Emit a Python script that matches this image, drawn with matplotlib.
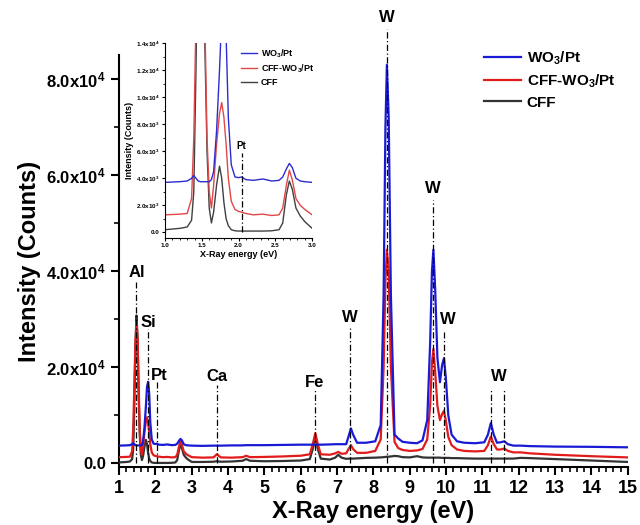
import numpy as np
import matplotlib
matplotlib.use('Agg')
import matplotlib.pyplot as plt
from matplotlib.ticker import MultipleLocator, FuncFormatter

plt.rcParams['font.family'] = ['Liberation Sans', 'DejaVu Sans']
plt.rcParams['font.weight'] = 'bold'
plt.rcParams['mathtext.fontset'] = 'custom'
plt.rcParams['mathtext.rm'] = 'Liberation Sans'
plt.rcParams['mathtext.bf'] = 'Liberation Sans:bold'

# EDS spectra (energy in eV, intensity in counts)
energy = [1.00, 1.20, 1.30, 1.36, 1.39, 1.42, 1.45, 1.48, 1.51, 1.54, 1.57, 1.60,
          1.63, 1.66, 1.70, 1.74, 1.77, 1.80, 1.83, 1.86, 1.90, 1.95, 2.00, 2.04,
          2.10, 2.20, 2.33, 2.45, 2.55, 2.60, 2.65, 2.69, 2.73, 2.78, 2.84, 2.90,
          3.00, 3.30, 3.60, 3.69, 3.80, 4.10, 4.40, 4.50, 4.60, 5.00, 5.50, 6.00,
          6.25, 6.33, 6.40, 6.47, 6.55, 6.80, 6.95, 7.03, 7.12, 7.25, 7.33, 7.38,
          7.44, 7.55, 7.80, 8.05, 8.20, 8.28, 8.33, 8.37, 8.42, 8.48, 8.58, 8.68,
          8.80, 9.00, 9.20, 9.35, 9.48, 9.56, 9.61, 9.65, 9.70, 9.76, 9.83, 9.89,
          9.94, 9.99, 10.06, 10.15, 10.30, 10.50, 10.80, 11.05, 11.15, 11.23, 11.31, 11.40,
          11.50, 11.60, 11.70, 11.85, 12.05, 12.30, 13.00, 14.00, 15.00]

wo3_pt = [3700, 3750, 3800, 4000, 4200, 4000, 3800, 3750, 3750, 3750, 3750, 3750,
          3900, 4500, 7500, 12000, 16000, 17000, 14500, 8500, 5000, 4100, 4050, 4100,
          3900, 3850, 3950, 3800, 3850, 4100, 4700, 5100, 4800, 4000, 3800, 3750,
          3700, 3650, 3700, 3700, 3700, 3750, 3750, 3800, 3800, 3800, 3850, 3900,
          3900, 3900, 3900, 3900, 3900, 3950, 4000, 4000, 4000, 4000, 6000, 7300,
          6000, 4300, 4300, 4600, 8000, 35000, 70000, 83000, 72000, 35000, 6000, 5200,
          4500, 4300, 4200, 4800, 9000, 25000, 40000, 44500, 36000, 22000, 16900, 20500,
          21900, 18000, 10000, 6000, 4600, 4300, 4200, 4400, 6000, 8400, 6000, 4300,
          4400, 4600, 4000, 3700, 3700, 3600, 3500, 3450, 3350]

cff_wo3_pt = [1300, 1350, 1400, 2500, 7000, 16000, 25000, 29500, 26000, 16000, 7000, 3000,
              1800, 3500, 6500, 8800, 9600, 8500, 6500, 4000, 2300, 1700, 1550, 1500,
              1400, 1300, 1350, 1250, 1300, 1800, 3500, 4600, 3900, 2500, 2000, 1700,
              1300, 1200, 1250, 1900, 1250, 1200, 1300, 1600, 1300, 1350, 1450, 1600,
              1900, 4000, 6300, 4000, 1900, 1800, 2100, 2400, 2000, 2100, 3200, 3800,
              3000, 2200, 2200, 2600, 5000, 20000, 38000, 44500, 40000, 20000, 4500, 3200,
              2800, 2600, 2700, 3000, 5000, 12000, 21000, 23800, 19000, 12000, 9000, 10300,
              10900, 9000, 5500, 3800, 2900, 2600, 2500, 2600, 3800, 5600, 4000, 2900,
              2900, 3100, 2600, 2300, 2300, 2100, 1800, 1500, 1250]

cff = [200, 300, 400, 900, 3000, 12000, 24000, 30800, 26000, 14000, 6000, 1800,
       700, 1500, 3500, 4900, 4000, 2200, 1000, 500, 200, 120, 100, 100,
       100, 100, 100, 120, 200, 700, 2800, 3800, 3200, 1800, 1200, 800,
       300, 300, 350, 450, 350, 400, 550, 900, 550, 450, 500, 600,
       900, 3000, 5500, 3000, 1000, 800, 1200, 1800, 1200, 950, 1000, 1000,
       1000, 1050, 1150, 1200, 1250, 1300, 1350, 1400, 1400, 1450, 1550, 1500,
       1300, 1250, 1500, 1250, 1200, 1200, 1200, 1200, 1200, 1200, 1200, 1150,
       1150, 1150, 1150, 1100, 1100, 1050, 1000, 1000, 1000, 1000, 1000, 1000,
       1000, 1000, 1000, 1000, 1150, 1100, 900, 600, 300]

# element markers: name, line energy, label position, top of dash-dot line
peak_names = ['Al', 'Si', 'Pt', 'Ca', 'Fe', 'W', 'W', 'W', 'W', 'W', '']
peak_x = [1.48, 1.79, 2.04, 3.70, 6.39, 7.36, 8.37, 9.64, 9.94, 11.23, 11.60]
label_x = [1.48, 1.82, 2.12, 3.70, 6.39, 7.36, 8.37, 9.64, 10.04, 11.45, 11.45]
label_y = [39700, 29400, 18400, 18000, 16900, 30300, 92900, 57200, 29900, 18000, 18000]
line_top = [37800, 28000, 17000, 16300, 15200, 28200, 90400, 54900, 27400, 15700, 15700]

blue = '#1a1ad6'
red = '#e21b1b'
dark = '#333333'
dashdot = (0, (5, 2, 1, 2))


def sci_fmt(v, pos):
    if abs(v) < 1e-9:
        return '0.0'
    if v < 0:
        return ''
    e = int(np.floor(np.log10(v)))
    m = v / 10 ** e
    return r'$\mathbf{%.1fx10^{%d}}$' % (m, e)


fig = plt.figure(figsize=(6.4, 5.25), dpi=100)

# main spectrum
ax = fig.add_axes([0.186, 0.110, 0.795, 0.785])
ax.plot(energy, cff, color=dark, lw=1.6, label='CFF', zorder=3)
ax.plot(energy, cff_wo3_pt, color=red, lw=1.6, label=r'CFF-WO$_\mathbf{3}$/Pt', zorder=4)
ax.plot(energy, wo3_pt, color=blue, lw=1.6, label=r'WO$_\mathbf{3}$/Pt', zorder=5)

for name, px, lx, ly, top in zip(peak_names, peak_x, label_x, label_y, line_top):
    ax.plot([px, px], [0, top], color='black', lw=0.9, ls=dashdot, zorder=6, clip_on=False)
    if name:
        ax.text(lx, ly, name, ha='center', va='center', fontsize=12,
                fontweight='bold', clip_on=False)

ax.set_xlim(1, 15)
ax.set_ylim(-800, 85000)
ax.xaxis.set_major_locator(MultipleLocator(1))
ax.xaxis.set_minor_locator(MultipleLocator(0.2))
ax.yaxis.set_major_locator(MultipleLocator(20000))
ax.yaxis.set_minor_locator(MultipleLocator(10000))
ax.yaxis.set_major_formatter(FuncFormatter(sci_fmt))
ax.spines['top'].set_visible(False)
ax.spines['right'].set_visible(False)
for s in ['left', 'bottom']:
    ax.spines[s].set_linewidth(1.5)
ax.tick_params(which='major', direction='out', length=6, width=1.5, labelsize=12)
ax.tick_params(which='minor', direction='out', length=3.5, width=1.2)
ax.tick_params(axis='x', labelsize=13, pad=3)
for lab in ax.get_xticklabels():
    lab.set_fontweight('bold')
ax.set_xlabel('X-Ray energy (eV)', fontsize=17, fontweight='bold', labelpad=2)
ax.set_ylabel('Intensity (Counts)', fontsize=17, fontweight='bold', labelpad=4)

handles, labels = ax.get_legend_handles_labels()
ax.legend(handles[::-1], labels[::-1], loc='upper left', bbox_to_anchor=(0.69, 1.047),
          frameon=False, handlelength=2.4, handletextpad=0.4,
          labelspacing=0.35, prop={'weight': 'bold', 'size': 11})

# inset: low energy region
ax2 = fig.add_axes([0.258, 0.547, 0.2297, 0.371])
ax2.set_facecolor('white')
ax2.plot(energy, cff, color='#404040', lw=1.0, label='CFF')
ax2.plot(energy, cff_wo3_pt, color='#e04848', lw=1.0, label=r'CFF-WO$_\mathbf{3}$/Pt')
ax2.plot(energy, wo3_pt, color='#2c2cd0', lw=1.0, label=r'WO$_\mathbf{3}$/Pt')
ax2.plot([2.04, 2.04], [0, 5900], color='black', lw=0.9, ls=dashdot)
ax2.text(2.04, 6400, 'Pt', ha='center', va='center', fontsize=7, fontweight='bold')
ax2.set_xlim(1.0, 3.0)
ax2.set_ylim(-400, 14000)
ax2.xaxis.set_major_locator(MultipleLocator(0.5))
ax2.xaxis.set_minor_locator(MultipleLocator(0.1))
ax2.yaxis.set_major_locator(MultipleLocator(2000))
ax2.yaxis.set_minor_locator(MultipleLocator(1000))
ax2.yaxis.set_major_formatter(FuncFormatter(sci_fmt))
ax2.xaxis.set_major_formatter(FuncFormatter(lambda v, p: '%.1f' % v))
ax2.spines['top'].set_visible(False)
ax2.spines['right'].set_visible(False)
for s in ['left', 'bottom']:
    ax2.spines[s].set_linewidth(0.8)
ax2.tick_params(which='major', direction='out', length=2.5, width=0.8, labelsize=4.5, pad=1.5)
ax2.tick_params(which='minor', direction='out', length=1.5, width=0.6)
for lab in ax2.get_xticklabels():
    lab.set_fontweight('bold')
ax2.set_xlabel('X-Ray energy (eV)', fontsize=6.5, fontweight='bold', labelpad=1)
ax2.set_ylabel('Intensity (Counts)', fontsize=6.5, fontweight='bold', labelpad=1)
h2, l2 = ax2.get_legend_handles_labels()
ax2.legend(h2[::-1], l2[::-1], loc='upper right', bbox_to_anchor=(1.07, 1.02),
           frameon=False, handlelength=1.8, handletextpad=0.4, labelspacing=0.3,
           prop={'weight': 'bold', 'size': 6.5})

fig.savefig('out.png', dpi=100)
